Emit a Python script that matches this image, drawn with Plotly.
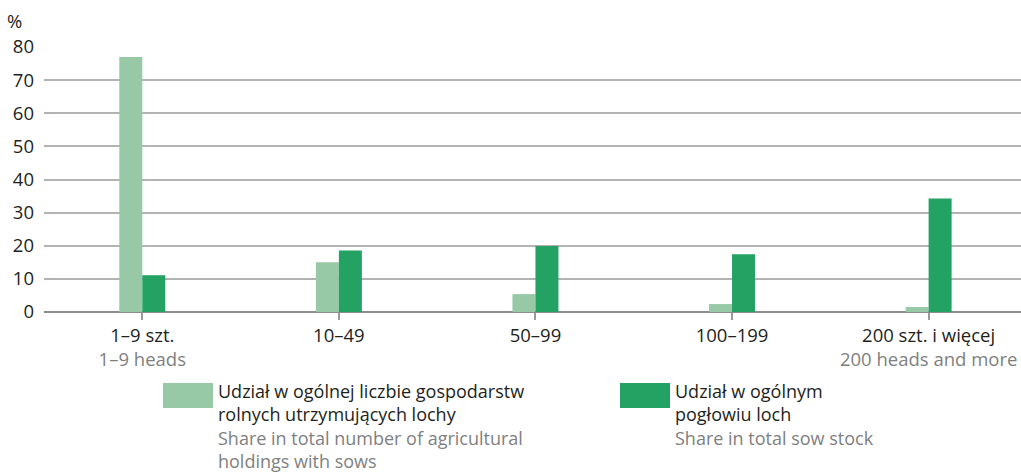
import plotly.graph_objects as go

# ---- data ----
categories = ["1–9 szt.", "10–49", "50–99", "100–199", "200 szt. i więcej"]
categories_en = ["1–9 heads", "", "", "", "200 heads and more"]
share_holdings = [77.0, 15.0, 5.4, 2.4, 1.5]
share_stock = [11.1, 18.6, 19.9, 17.4, 34.3]

name_holdings = ("Udział w ogólnej liczbie gospodarstw<br>rolnych utrzymujących lochy",
                 "Share in total number of agricultural<br>holdings with sows")
name_stock = ("Udział w ogólnym<br>pogłowiu loch", "Share in total sow stock")

LIGHT = "#97c9a7"
DARK = "#23a264"
TEXT = "#231f20"
GREY_TEXT = "#7f7f7f"
GRID = "#b3b3b3"
FONT = "Open Sans"
FS = 18.5

W, H = 1021, 476
ML, MT, MB, MR = 44, 46, 164, 0

tick_text = []
for pl, en in zip(categories, categories_en):
    t = pl
    if en:
        t += f"<br><span style='color:{GREY_TEXT}'>{en}</span>"
    tick_text.append(t)

fig = go.Figure()
fig.add_trace(go.Bar(x=list(range(len(categories))), y=share_holdings,
                     marker=dict(color=LIGHT, line=dict(width=0)), showlegend=False))
fig.add_trace(go.Bar(x=list(range(len(categories))), y=share_stock,
                     marker=dict(color=DARK, line=dict(width=0)), showlegend=False))

# ---- legend drawn by hand (wide swatches, two-language labels) ----
pw, ph = W - ML - MR, H - MT - MB
def px(x):
    return (x - ML) / pw
def py(y):
    return (H - MB - y) / ph

for x0, color, (pl, en) in [(163, LIGHT, name_holdings), (620, DARK, name_stock)]:
    fig.add_shape(type="rect", xref="paper", yref="paper",
                  x0=px(x0), x1=px(x0 + 50), y0=py(408), y1=py(383),
                  fillcolor=color, line=dict(width=0))
    fig.add_annotation(xref="paper", yref="paper", x=px(x0 + 53), y=py(377),
                       xanchor="left", yanchor="top", align="left", showarrow=False,
                       text=f"{pl}<br><span style='color:{GREY_TEXT}'>{en}</span>",
                       font=dict(family=FONT, size=18, color=TEXT))

fig.add_annotation(xref="paper", yref="paper", x=px(5), y=py(6),
                   xanchor="left", yanchor="top", showarrow=False, text="%",
                   font=dict(family=FONT, size=FS, color=TEXT))

fig.update_layout(
    width=W, height=H,
    margin=dict(l=ML, r=MR, t=MT, b=MB),
    barmode="group", bargap=0.766, bargroupgap=0,
    plot_bgcolor="white", paper_bgcolor="white",
    font=dict(family=FONT, size=FS, color=TEXT),
    xaxis=dict(range=[-0.5, 4.47], tickmode="array",
               tickvals=list(range(len(categories))), ticktext=tick_text,
               tickson="boundaries", ticks="outside", ticklen=7, tickwidth=1.5,
               tickcolor="#9a9a9a", showgrid=False, showline=False, zeroline=False),
    yaxis=dict(range=[0, 80.3], dtick=10, showgrid=True, gridcolor=GRID, gridwidth=1.5,
               zeroline=True, zerolinecolor="#8c8c8c", zerolinewidth=1.5,
               ticks="", ticklabelstandoff=9),
)

fig.write_html("out.html", config={"displayModeBar": False},
               post_script="document.body.style.margin='0';")
